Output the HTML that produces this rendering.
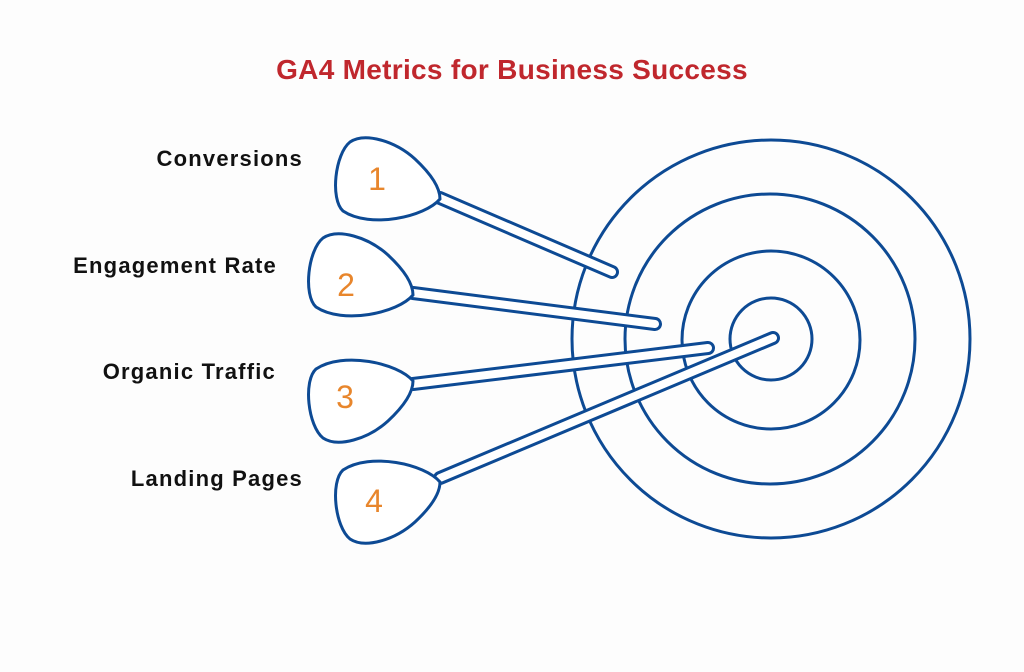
<!DOCTYPE html>
<html><head><meta charset="utf-8"><style>
html,body{margin:0;padding:0;background:#fdfdfd;}
svg{display:block}
</style></head><body>
<svg width="1024" height="672" viewBox="0 0 1024 672" xmlns="http://www.w3.org/2000/svg">
<rect width="1024" height="672" fill="#fdfdfd"/>
<text x="512" y="79" text-anchor="middle" font-family="Liberation Sans, sans-serif" font-size="28" font-weight="bold" letter-spacing="0.3" fill="#c0272d">GA4 Metrics for Business Success</text>
<g fill="none" stroke="#0d4a94" stroke-width="3">
<circle cx="771" cy="339" r="199"/>
<circle cx="770" cy="339" r="145"/>
<circle cx="771" cy="340" r="89"/>
<circle cx="771" cy="339" r="41"/>
</g>
<g stroke-linecap="round">
<line x1="440" y1="198" x2="612" y2="272" stroke="#0d4a94" stroke-width="14"/>
<line x1="440" y1="198" x2="612" y2="272" stroke="#fff" stroke-width="8"/>
<line x1="413" y1="293" x2="655" y2="324" stroke="#0d4a94" stroke-width="14"/>
<line x1="413" y1="293" x2="655" y2="324" stroke="#fff" stroke-width="8"/>
<line x1="413" y1="384" x2="708" y2="348" stroke="#0d4a94" stroke-width="14"/>
<line x1="413" y1="384" x2="708" y2="348" stroke="#fff" stroke-width="8"/>
<line x1="440" y1="478" x2="773" y2="338" stroke="#0d4a94" stroke-width="14"/>
<line x1="440" y1="478" x2="773" y2="338" stroke="#fff" stroke-width="8"/>
</g>
<defs>
<path id="h" d="M0,0 C -15,18 -70,30 -97,12 C -110,0 -105,-45 -90,-57 C -75,-67 -45,-58 -25,-40 C -10,-26 0,-12 0,0Z" fill="#fff" stroke="#0d4a94" stroke-width="3"/>
</defs>
<use href="#h" transform="translate(440,199)"/>
<use href="#h" transform="translate(413,295)"/>
<use href="#h" transform="translate(413,381) scale(1,-1)"/>
<use href="#h" transform="translate(440,482) scale(1,-1)"/>
<g font-family="Liberation Sans, sans-serif" font-size="32" fill="#e8862c" text-anchor="middle">
<text x="377" y="190">1</text>
<text x="346" y="296">2</text>
<text x="345" y="408">3</text>
<text x="374" y="512">4</text>
</g>
<g font-family="Liberation Sans, sans-serif" font-size="22" font-weight="bold" letter-spacing="1.2" fill="#111" text-anchor="end">
<text x="303" y="166">Conversions</text>
<text x="277" y="273">Engagement Rate</text>
<text x="276" y="379">Organic Traffic</text>
<text x="303" y="486">Landing Pages</text>
</g>
</svg>
</body></html>
